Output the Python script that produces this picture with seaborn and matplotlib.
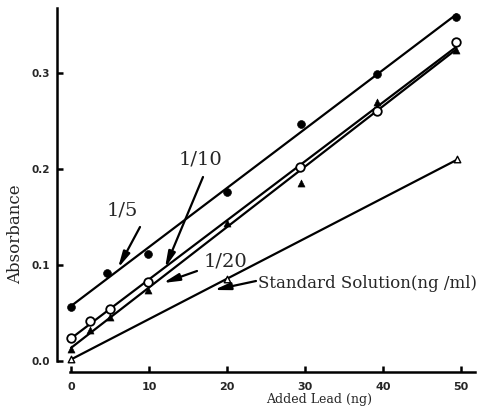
import numpy as np
import pandas as pd
import matplotlib
matplotlib.use("Agg")
import matplotlib.pyplot as plt
import seaborn as sns

# ---- data ----
x_fifth = [0, 4.6, 9.9, 20, 29.5, 39.2, 49.4]
y_fifth = [0.056, 0.092, 0.111, 0.176, 0.247, 0.299, 0.358]

x_tenth = [0, 2.4, 5.0, 9.9, 29.4, 39.2, 49.3]
y_tenth = [0.024, 0.042, 0.054, 0.082, 0.202, 0.260, 0.332]

x_twentieth = [0, 2.4, 5.0, 9.9, 20, 29.5, 39.2, 49.4]
y_twentieth = [0.0125, 0.032, 0.046, 0.074, 0.144, 0.185, 0.270, 0.324]

x_standard = [0, 20, 49.5]
y_standard = [0.002, 0.085, 0.210]

x_ticks = [0, 10, 20, 30, 40, 50]
y_ticks = [0.0, 0.1, 0.2, 0.3]

sns.set_theme(style="white")
plt.rcParams['font.family'] = ['DejaVu Serif']

fig = plt.figure(figsize=(4.84, 4.09), dpi=100)
W, H = 484, 409
L, R, T, B = 57, 475, 8, 372
ax = fig.add_axes([L / W, (H - B) / H, (R - L) / W, (B - T) / H])

# pixel mapping: x0 at px 71, 7.8 px/unit ; y0 at px 361, 960 px/unit
ax.set_xlim((L - 71) / 7.8, (R - 71) / 7.8)
ax.set_ylim((361 - B) / 960, (361 - T) / 960)

series = [
    (x_fifth, y_fifth, dict(marker='o', s=32, facecolor='black', edgecolor='black')),
    (x_tenth, y_tenth, dict(marker='o', s=38, facecolor='white', edgecolor='black', linewidth=1.3)),
    (x_twentieth, y_twentieth, dict(marker='^', s=26, facecolor='black', edgecolor='black')),
    (x_standard, y_standard, dict(marker='^', s=22, facecolor='white', edgecolor='black', linewidth=1.0)),
]
for xs, ys, mk in series:
    df = pd.DataFrame({'x': xs, 'y': ys})
    sns.regplot(data=df, x='x', y='y', ci=None, scatter=False, truncate=True,
                line_kws=dict(color='black', lw=1.6), ax=ax)
for xs, ys, mk in series:
    df = pd.DataFrame({'x': xs, 'y': ys})
    sns.scatterplot(data=df, x='x', y='y', ax=ax, zorder=5, **mk)

# spines
for s in ['top', 'right']:
    ax.spines[s].set_visible(False)
for s in ['left', 'bottom']:
    ax.spines[s].set_linewidth(1.8)
    ax.spines[s].set_color('black')
ax.spines['left'].set_bounds(0.0, (361 - T) / 960)
ax.spines['bottom'].set_bounds(-0.15, (R - 71) / 7.8)

ax.set_xticks(x_ticks)
ax.set_yticks(y_ticks)
ax.set_xticklabels([str(v) for v in x_ticks])
ax.set_yticklabels([f"{v:.1f}" for v in y_ticks])
ax.tick_params(axis='both', direction='in', length=4, width=1.8, color='black',
               left=True, bottom=True)
ax.tick_params(axis='y', pad=5, labelsize=7.5)
ax.tick_params(axis='x', pad=7, labelsize=8)
for lab in ax.get_xticklabels() + ax.get_yticklabels():
    lab.set_fontweight('bold')
    lab.set_family('DejaVu Sans')

ax.set_xlabel('Added Lead (ng)', fontsize=9)
ax.xaxis.set_label_coords((319 - L) / (R - L), -0.058)
ax.set_ylabel('Absorbance', fontsize=12)
ax.yaxis.set_label_coords(-0.078, (B - 234) / (B - T))

def d(px, py):
    return ((px - 71) / 7.8, (361 - py) / 960)

arrow = dict(arrowstyle='-|>,head_length=0.8,head_width=0.18', color='black', lw=1.6,
             shrinkA=0, shrinkB=0)
ax.annotate('', xy=d(118, 268), xytext=d(140, 227), arrowprops=arrow)
ax.text(*d(122, 210), '1/5', fontsize=14, ha='center', va='center')
ax.annotate('', xy=d(165, 268), xytext=d(203, 177), arrowprops=arrow)
ax.text(*d(200, 159), '1/10', fontsize=14, ha='center', va='center')
ax.annotate('', xy=d(163, 283), xytext=d(197, 271), arrowprops=arrow)
ax.text(*d(225, 261), '1/20', fontsize=14, ha='center', va='center')
ax.annotate('', xy=d(214, 290), xytext=d(256, 281), arrowprops=arrow)
ax.text(*d(258, 283), 'Standard Solution(ng /ml)', fontsize=12, ha='left', va='center')

fig.savefig('out.png', dpi=100, facecolor='white')
